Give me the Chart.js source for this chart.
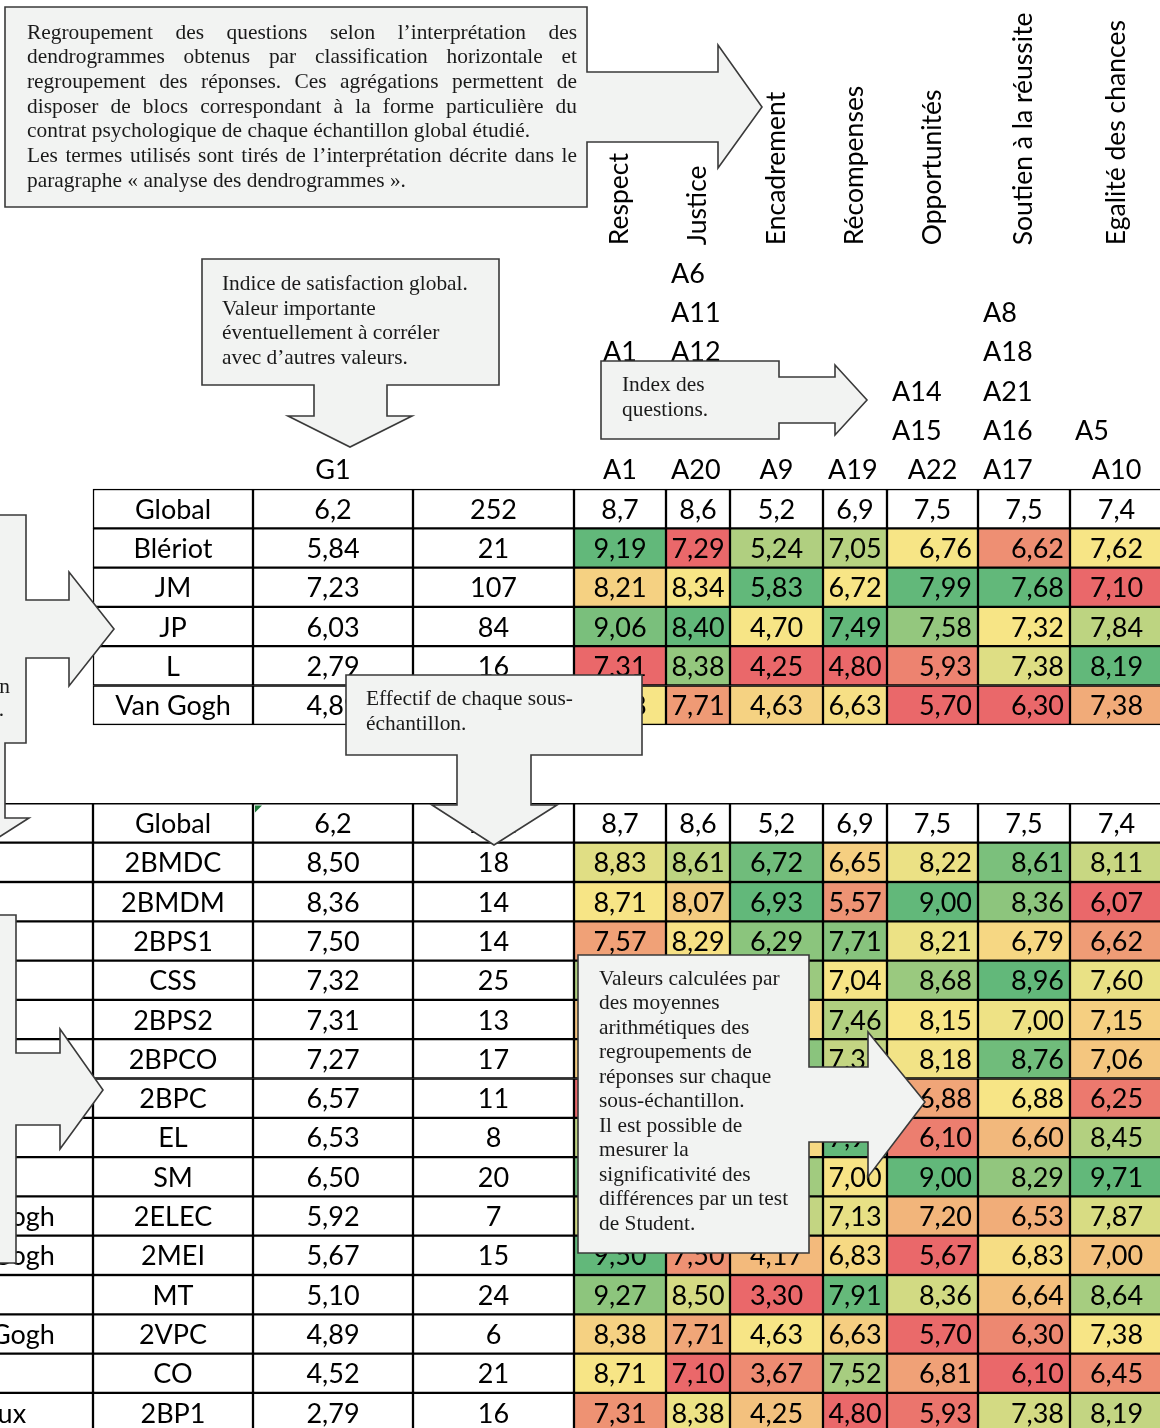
<!DOCTYPE html>
<html>
<head>
<meta charset="utf-8">
<script src="https://cdn.jsdelivr.net/npm/chart.js@4.4.1/dist/chart.umd.min.js"></script>
<style>
html,body{margin:0;padding:0;background:#fff;overflow:hidden}
#wrap{width:1160px;height:1428px;position:relative}
canvas{display:block}
</style>
</head>
<body>
<div id="wrap"><canvas id="c" width="1160" height="1428"></canvas></div>
<script>
// ---------------- DATA ----------------
const dimensions = ["Respect", "Justice", "Encadrement", "Récompenses", "Opportunités", "Soutien à la réussite", "Egalité des chances"];
const questionCodes = ["A1", "A20", "A9", "A19", "A22", "A17", "A10"];
// questions grouped above each code (bottom-aligned); "" = hidden under a callout
const questionGroups = [["A1", "", ""], ["A6", "A11", "A12", "", ""], [], [], ["A14", "A15"], ["A8", "A18", "A21", "A16"], ["A5"]];
const indexLabel = "G1";

const globalLabel = "Global";
const globalG1 = 6.2;
const globalN = 252;
const globalScores = [8.7, 8.6, 5.2, 6.9, 7.5, 7.5, 7.4];

const schoolNames = ["Blériot", "JM", "JP", "L", "Van Gogh"];
const schoolG1 = [5.84, 7.23, 6.03, 2.79, 4.89];
const schoolN = [21, 107, 84, 16, 6];
const schoolScores = [
  [9.19, 7.29, 5.24, 7.05, 6.76, 6.62, 7.62],
  [8.21, 8.34, 5.83, 6.72, 7.99, 7.68, 7.10],
  [9.06, 8.40, 4.70, 7.49, 7.58, 7.32, 7.84],
  [7.31, 8.38, 4.25, 4.80, 5.93, 7.38, 8.19],
  [8.38, 7.71, 4.63, 6.63, 5.70, 6.30, 7.38]
];

const classNames = ["2BMDC", "2BMDM", "2BPS1", "CSS", "2BPS2", "2BPCO", "2BPC", "EL", "SM", "2ELEC", "2MEI", "MT", "2VPC", "CO", "2BP1"];
const classSchools = ["", "", "", "", "", "", "", "", "", "Van Gogh", "Van Gogh", "", "Van Gogh", "", "Vaux"];
const classG1 = [8.50, 8.36, 7.50, 7.32, 7.31, 7.27, 6.57, 6.53, 6.50, 5.92, 5.67, 5.10, 4.89, 4.52, 2.79];
const classN = [18, 14, 14, 25, 13, 17, 11, 8, 20, 7, 15, 24, 6, 21, 16];
const classScores = [
  [8.83, 8.61, 6.72, 6.65, 8.22, 8.61, 8.11],
  [8.71, 8.07, 6.93, 5.57, 9.00, 8.36, 6.07],
  [7.57, 8.29, 6.29, 7.71, 8.21, 6.79, 6.62],
  [9.08, 9.05, 6.05, 7.04, 8.68, 8.96, 7.60],
  [8.15, 8.33, 4.52, 7.46, 8.15, 7.00, 7.15],
  [8.29, 8.45, 6.31, 7.35, 8.18, 8.76, 7.06],
  [6.60, 7.92, 4.41, 6.95, 6.88, 6.88, 6.25],
  [9.00, 8.52, 4.50, 7.93, 6.10, 6.60, 8.45],
  [9.40, 8.90, 5.95, 7.00, 9.00, 8.29, 9.71],
  [8.93, 8.31, 5.43, 7.13, 7.20, 6.53, 7.87],
  [9.50, 7.50, 4.17, 6.83, 5.67, 6.83, 7.00],
  [9.27, 8.50, 3.30, 7.91, 8.36, 6.64, 8.64],
  [8.38, 7.71, 4.63, 6.63, 5.70, 6.30, 7.38],
  [8.71, 7.10, 3.67, 7.52, 6.81, 6.10, 6.45],
  [7.31, 8.38, 4.25, 4.80, 5.93, 7.38, 8.19]
];

// ---------------- LAYOUT / STYLE ----------------
const COL_EDGES = [-99, 93, 253, 413, 574, 666, 730, 823, 887, 978, 1070, 1163];
const ROW_PITCH = 39.3, TABLE_TOP = 489, CANVAS_W = 1160, CANVAS_H = 1428;
const UPPER_START = 0, LOWER_START = 8;
const VALUE_ALIGN = ["center", "center", "center", "center", "right", "right", "center"];
const CODE_ALIGN = ["center", "left", "center", "left", "center", "left", "center"];
const STACK_ALIGN = ["center", "left", "center", "left", "left", "left", "left"];
const LOW = [234, 104, 106], MID = [247, 229, 134], HIGH = [98, 184, 122];
const TABLE_FONT = '27px Lato';
const TITLE_FONT = '26.5px Lato';
const SERIF_FONT = '21.4px "Liberation Serif"';
const BOX_FILL = '#f2f3f2', BOX_LINE = '#3a3a3a';

function fmt(v, d) { return v.toFixed(d).replace('.', ','); }
function mix(a, b, t) { return 'rgb(' + a.map((c, i) => Math.round(c + (b[i] - c) * t)).join(',') + ')'; }
function colorScale(values) {
  const s = values.slice().sort((a, b) => a - b);
  const n = s.length, min = s[0], max = s[n - 1];
  const pos = (n - 1) / 2, lo = Math.floor(pos), hi = Math.ceil(pos);
  const mid = s[lo] + (s[hi] - s[lo]) * (pos - lo);
  return v => v <= mid ? mix(LOW, MID, mid === min ? 1 : (v - min) / (mid - min))
                       : mix(MID, HIGH, max === mid ? 0 : (v - mid) / (max - mid));
}

// ---------------- build cells ----------------
const colNames = ["Établissement", "Sous-échantillon", "G1", "Effectif"].concat(questionCodes);
const cells = colNames.map(() => []);
function addCell(ci, row, text, fill, align) {
  cells[ci].push({ x: [COL_EDGES[ci], COL_EDGES[ci + 1]], y: row, text: text, fill: fill, align: align || 'center' });
}
// upper block
addCell(1, UPPER_START, globalLabel, '#fff');
addCell(2, UPPER_START, fmt(globalG1, 1), '#fff');
addCell(3, UPPER_START, String(globalN), '#fff');
globalScores.forEach((v, q) => addCell(4 + q, UPPER_START, fmt(v, 1), '#fff'));
const upperScales = questionCodes.map((_, q) => colorScale(schoolScores.map(r => r[q])));
schoolNames.forEach((nm, i) => {
  const row = UPPER_START + 1 + i;
  addCell(1, row, nm, '#fff');
  addCell(2, row, fmt(schoolG1[i], 2), '#fff');
  addCell(3, row, String(schoolN[i]), '#fff');
  schoolScores[i].forEach((v, q) => addCell(4 + q, row, fmt(v, 2), upperScales[q](v), VALUE_ALIGN[q]));
});
// lower block
addCell(0, LOWER_START, '', '#fff');
addCell(1, LOWER_START, globalLabel, '#fff');
addCell(2, LOWER_START, fmt(globalG1, 1), '#fff');
addCell(3, LOWER_START, String(globalN), '#fff');
globalScores.forEach((v, q) => addCell(4 + q, LOWER_START, fmt(v, 1), '#fff'));
const lowerScales = questionCodes.map((_, q) => colorScale(classScores.map(r => r[q])));
classNames.forEach((nm, i) => {
  const row = LOWER_START + 1 + i;
  addCell(0, row, classSchools[i], '#fff');
  addCell(1, row, nm, '#fff');
  addCell(2, row, fmt(classG1[i], 2), '#fff');
  addCell(3, row, String(classN[i]), '#fff');
  classScores[i].forEach((v, q) => addCell(4 + q, row, fmt(v, 2), lowerScales[q](v), VALUE_ALIGN[q]));
});

// ---------------- plugins ----------------
const cellText = {
  id: 'cellText',
  afterDatasetsDraw(chart) {
    const ctx = chart.ctx;
    ctx.save();
    ctx.font = TABLE_FONT;
    ctx.fillStyle = '#000';
    ctx.textBaseline = 'alphabetic';
    chart.data.datasets.forEach((ds, di) => {
      chart.getDatasetMeta(di).data.forEach((el, i) => {
        const it = ds.data[i];
        if (!it.text) return;
        const l = Math.min(el.x, el.base), r = Math.max(el.x, el.base);
        let x;
        if (it.align === 'right') { ctx.textAlign = 'right'; x = r - 6; }
        else { ctx.textAlign = 'center'; x = (l + r) / 2; }
        ctx.fillText(it.text, x, el.y + 10);
      });
    });
    // excel green marker on lower Global G1 cell
    const g1meta = chart.getDatasetMeta(2);
    const gi = cells[2].findIndex(c => c.y === LOWER_START);
    const gel = g1meta.data[gi];
    const gl = Math.min(gel.x, gel.base), gt = gel.y - gel.height / 2;
    ctx.fillStyle = '#1f7a3a';
    ctx.beginPath(); ctx.moveTo(gl + 2, gt + 2); ctx.lineTo(gl + 9, gt + 2); ctx.lineTo(gl + 2, gt + 9); ctx.closePath(); ctx.fill();

    // headers
    const xs = chart.scales.x, ys = chart.scales.y;
    ctx.fillStyle = '#000';
    ctx.font = TABLE_FONT;
    const colCenter = ci => xs.getPixelForValue((COL_EDGES[ci] + COL_EDGES[ci + 1]) / 2);
    const colLeft = ci => xs.getPixelForValue(COL_EDGES[ci]);
    const putLabel = (txt, ci, row, align) => {
      if (!txt) return;
      const y = ys.getPixelForValue(row) + 10;
      if (align === 'left') { ctx.textAlign = 'left'; ctx.fillText(txt, colLeft(ci) + 5, y); }
      else { ctx.textAlign = 'center'; ctx.fillText(txt, colCenter(ci), y); }
    };
    putLabel(indexLabel, 2, -1, 'center');
    questionCodes.forEach((c, q) => putLabel(c, 4 + q, -1, CODE_ALIGN[q]));
    questionGroups.forEach((g, q) => g.forEach((c, k) => putLabel(c, 4 + q, -2 - (g.length - 1 - k), STACK_ALIGN[q])));
    // rotated dimension titles
    ctx.font = TITLE_FONT;
    ctx.textAlign = 'left';
    const bottom = ys.getPixelForValue(-6.5) - 8;
    dimensions.forEach((d, q) => {
      ctx.save();
      ctx.translate(colCenter(4 + q) + 8, bottom);
      ctx.rotate(-Math.PI / 2);
      ctx.fillText(d, 0, 0);
      ctx.restore();
    });
    ctx.restore();
  }
};

function shape(ctx, pts) {
  ctx.beginPath();
  ctx.moveTo(pts[0][0], pts[0][1]);
  for (let i = 1; i < pts.length; i++) ctx.lineTo(pts[i][0], pts[i][1]);
  ctx.closePath();
  ctx.fillStyle = BOX_FILL; ctx.fill();
  ctx.lineJoin = 'miter'; ctx.lineWidth = 1.6; ctx.strokeStyle = BOX_LINE; ctx.stroke();
}
function lines(ctx, arr, x, y0, step, align) {
  ctx.textAlign = align || 'left';
  arr.forEach((t, i) => ctx.fillText(t, x, y0 + i * step));
}
function justified(ctx, arr, x, w, y0, step) {
  arr.forEach((ln, i) => {
    const y = y0 + i * step;
    ctx.textAlign = 'left';
    if (!ln.j) { ctx.fillText(ln.t, x, y); return; }
    const words = ln.t.split(' ');
    const tot = words.reduce((s, wd) => s + ctx.measureText(wd).width, 0);
    const gap = (w - tot) / (words.length - 1);
    let cx = x;
    words.forEach(wd => { ctx.fillText(wd, cx, y); cx += ctx.measureText(wd).width + gap; });
  });
}

const callouts = {
  id: 'callouts',
  afterDraw(chart) {
    const ctx = chart.ctx;
    ctx.save();
    shape(ctx, [[5, 7], [587, 7], [587, 72], [718, 72], [718, 45], [762, 107], [718, 168], [718, 142], [587, 142], [587, 207], [5, 207]]);
    shape(ctx, [[202, 259], [499, 259], [499, 385], [387, 385], [387, 416], [412, 416], [350, 447], [288, 416], [314, 416], [314, 385], [202, 385]]);
    shape(ctx, [[601, 361], [779, 361], [779, 377], [835, 377], [835, 365], [867, 400], [835, 435], [835, 423], [779, 423], [779, 439], [601, 439]]);
    shape(ctx, [[-300, 515], [26, 515], [26, 600], [69, 600], [69, 572], [114, 629], [69, 686], [69, 658], [26, 658], [26, 743], [5, 743], [5, 818], [29, 818], [-40, 862], [-300, 862]]);
    shape(ctx, [[-300, 915], [16, 915], [16, 1053], [60, 1053], [60, 1029], [103, 1090], [60, 1149], [60, 1125], [16, 1125], [16, 1263], [-300, 1263]]);
    shape(ctx, [[346, 675], [642, 675], [642, 755], [531, 755], [531, 805], [557, 805], [494, 845], [432, 805], [457, 805], [457, 755], [346, 755]]);
    shape(ctx, [[578, 955], [809, 955], [809, 1067], [868, 1067], [868, 1032], [925, 1102], [868, 1177], [868, 1142], [809, 1142], [809, 1253], [578, 1253]]);

    ctx.fillStyle = '#1a1a1a';
    ctx.font = SERIF_FONT;
    ctx.textBaseline = 'alphabetic';
    justified(ctx, [
      { t: 'Regroupement des questions selon l’interprétation des', j: true },
      { t: 'dendrogrammes obtenus par classification horizontale et', j: true },
      { t: 'regroupement des réponses. Ces agrégations permettent de', j: true },
      { t: 'disposer de blocs correspondant à la forme particulière du', j: true },
      { t: 'contrat psychologique de chaque échantillon global étudié.', j: false },
      { t: 'Les termes utilisés sont tirés de l’interprétation décrite dans le', j: true },
      { t: 'paragraphe « analyse des dendrogrammes ».', j: false }
    ], 27, 550, 38.5, 24.7);
    lines(ctx, ['Indice de satisfaction global.', 'Valeur importante', 'éventuellement à corréler', 'avec d’autres valeurs.'], 222, 290, 24.7);
    lines(ctx, ['Index des', 'questions.'], 622, 391, 25);
    lines(ctx, ['Établissement de chaque sous-échantillon'], 10, 693, 23, 'right');
    lines(ctx, ['de l’échantillon global.'], 4, 716, 23, 'right');
    lines(ctx, ['Effectif de chaque sous-', 'échantillon.'], 366, 705, 24.6);
    lines(ctx, ['Valeurs calculées par', 'des moyennes', 'arithmétiques des', 'regroupements de', 'réponses sur chaque',
      'sous-échantillon.', 'Il est possible de', 'mesurer la', 'significativité des', 'différences par un test', 'de Student.'], 599, 984.5, 24.55);
    ctx.restore();
  }
};

// ---------------- chart ----------------
function build() {
  const yMin = -TABLE_TOP / ROW_PITCH - 0.5;
  const yMax = (CANVAS_H - TABLE_TOP) / ROW_PITCH - 0.5;
  new Chart(document.getElementById('c'), {
    type: 'bar',
    data: {
      datasets: colNames.map((nm, ci) => ({
        label: nm,
        data: cells[ci],
        backgroundColor: c => (c.raw && c.raw.fill) || '#fff',
        borderColor: '#000',
        borderWidth: 1.5,
        borderSkipped: false
      }))
    },
    options: {
      indexAxis: 'y',
      responsive: false,
      animation: false,
      events: [],
      layout: { padding: 0 },
      datasets: { bar: { grouped: false, categoryPercentage: 1, barPercentage: 1 } },
      plugins: { legend: { display: false }, tooltip: { enabled: false }, title: { display: false } },
      scales: {
        x: { type: 'linear', min: 0, max: CANVAS_W, display: false, offset: false },
        y: { type: 'linear', min: yMin, max: yMax, reverse: true, display: false, offset: false,
             ticks: { stepSize: 1, includeBounds: false } }
      }
    },
    plugins: [cellText, callouts]
  });
}
Promise.all([
  document.fonts.load(TABLE_FONT),
  document.fonts.load(TITLE_FONT),
  document.fonts.load(SERIF_FONT)
]).catch(() => {}).then(build);
</script>
</body>
</html>
